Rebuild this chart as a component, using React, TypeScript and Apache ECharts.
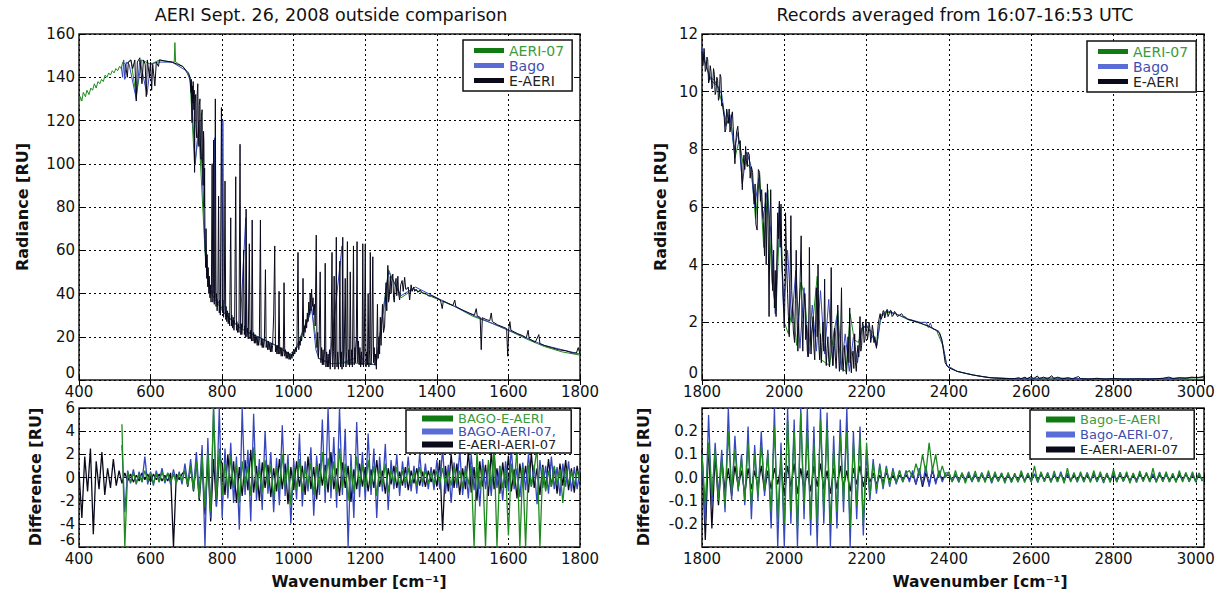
import React, { useEffect, useRef } from 'react';
import * as echarts from 'echarts';

const FONT = 'DejaVu Sans, Liberation Sans, sans-serif';

// ---------- Upper-left panel: radiance 400-1800 cm-1 ----------
const aeri07Left: [number, number][] = [
  [400,127],[404,131],[408,129],[412,133],[418,131],[422,134],[428,132],[433,135],[438,134],[443,137],[448,135],[453,138],[458,137],[463,139],[468,138],[473,141],[478,140],[483,142],[488,141],[493,143],[498,142],[503,144],[508,143],[513,145],[518,144],[522,147],[530,146],[545,148],[560,131],[575,148],[600,146],[625,148],[660,147],[666,147],[668,156],[670,147],[690,145],[710,140],[723,99],[735,115],[752,60],[760,45],[770,40],[800,32],[850,24],[900,20],[950,16],[990,11.5],[1000,12],[1040,29],[1050,33],[1070,10],[1100,7.5],[1150,8],[1200,7.5],[1230,7],[1265,51],[1300,38],[1335,42],[1400,37.5],[1450,34],[1500,29.5],[1550,26.5],[1600,23],[1650,19],[1700,15.5],[1750,13],[1800,11.5]
];

const bagoLeft: [number, number][] = [
  [518,145],[522,140],[525,148],[528,139],[532,147],[540,146],[560,130],[570,148],[590,132],[600,146],[620,147],[660,147],[700,143],[712,138],[725,100],[735,120],[745,95],[752,62],[760,44],[775,40],[779,112],[782,38],[800,33],[802,120],[805,31],[850,24],[866,75],[869,22],[900,20],[950,16],[990,12],[1010,15],[1045,30],[1050,34],[1062,14],[1070,10],[1100,8],[1135,62],[1138,8],[1170,10],[1176,20],[1182,12],[1200,8],[1230,7],[1265,50],[1300,39],[1340,43],[1400,38],[1500,30],[1600,23],[1700,16],[1800,12]
];

const eaeriLeft: [number, number][] = [
  [530,146],[535,140],[538,147],[545,148],[550,144],[556,148],[560,129],[563,147],[570,149],[576,137],[580,148],[585,146],[588,131],[591,148],[597,140],[600,147],[603,134],[606,146],[612,136],[616,147],[622,145],[625,148],[640,147.5],[660,147],[675,146],[690,145],[700,143],[706,142],[710,140],
  [713,133],[714,139],[716,119],[717,136],[718,128],[719,138],[721,125],[722,134],[723,96],[724,128],[726,132],[727,118],[729,112],[730,131],[732,137],[733,120],[735,108],[736,127],[738,130],[739,110],[741,102],[742,122],[744,125],[745,100],[747,90],[748,115],[749,110],[750,80],[751,98],
  [752,65],[754,52],[755,70],[757,47],[758,58],[760,43],[761,52],[763,40],[764,48],[766,38],[767,44],[769,36],[770,42],[772,100],[774,36],[775,44],[776,111],[778,35],[779,42],[781,130],[783,34],[784,40],[786,32],[788,38],[790,85],[792,31],[793,37],[795,30],[798,126],[801,31],[802,37],[804,29],[806,35],[808,92],[810,28],[811,34],[813,27],[815,32],[817,26],[819,31],[821,25],[824,75],[826,25],[827,30],[829,24],[831,29],[833,23],[835,28],[838,94],[840,23],[841,27],[843,22],[845,26],[847,22],[850,109],[852,21],[854,26],[855,21],[857,25],[860,60],[862,21],[863,25],[865,20],[867,79],[869,20],[871,24],[873,19],[876,63],[878,19],[880,23],[882,18],[884,74],[886,18],[888,22],[890,17],[892,21],[894,17],[896,20],[898,16],[900,20],[902,16],[904,19],[907,74],[909,16],[910,19],[912,15],[914,19],[916,15],[918,18],[921,51],[923,15],[925,18],[927,14],[929,18],[931,14],[933,17],[935,13],[937,17],[939,13],[941,16],[944,30],[947,62],[949,13],[951,16],[953,12],[955,16],[957,12],[959,41],[961,12],[963,15],[965,11],[967,15],[969,11],[971,14],[973,45],[975,11],[977,14],[979,10],[981,13],[983,10],[985,13],[987,9.5],[989,12],[991,9.5],[993,12],[995,10],[997,13],[999,11],[1001,14],[1003,12],[1005,15],[1007,13],[1009,16],[1012,59],[1014,14],[1016,18],[1018,16],[1020,20],[1022,18],[1024,22],[1026,47],[1028,20],[1030,25],[1032,22],[1034,28],[1036,24],[1038,31],[1040,27],[1042,36],[1044,30],[1046,40],[1048,32],[1050,42],[1052,34],[1054,38],[1056,30],[1058,35],[1060,25],[1063,67],[1065,15],[1067,22],[1069,10],[1071,18],[1074,50],[1076,8],[1078,15],[1080,7],[1082,14],[1084,7],[1086,13],[1088,54],[1090,6],[1092,13],[1094,6],[1096,12],[1098,6],[1100,14],[1102,5],[1104,12],[1107,59],[1109,6],[1111,13],[1113,48],[1115,5],[1117,12],[1119,66],[1121,6],[1123,13],[1125,5],[1127,12],[1129,55],[1131,6],[1133,13],[1135,5],[1137,66],[1139,6],[1141,12],[1144,47],[1146,6],[1148,13],[1150,64],[1152,7],[1154,14],[1156,6],[1158,50],[1160,7],[1162,14],[1164,6],[1167,62],[1169,7],[1171,15],[1173,8],[1175,20],[1177,64],[1179,8],[1181,18],[1183,7],[1185,15],[1187,6],[1189,13],[1191,7],[1193,63],[1195,6],[1197,12],[1200,63],[1202,6],[1204,13],[1206,7],[1208,40],[1210,6],[1212,14],[1214,59],[1216,7],[1218,13],[1221,57],[1223,8],[1225,15],[1227,7],[1229,12],[1231,5],[1234,35],[1236,10],[1238,20],[1240,12],
  [1242,29],[1244,16],[1248,35],[1251,22],[1254,25],[1258,45],[1260,32],[1263,53],[1265,36],[1267,38],[1270,48],[1272,40],[1274,46],[1277,49],[1279,38],[1281,36],[1284,45],[1286,47],[1288,39],[1291,48],[1293,40],[1296,37],[1299,44],[1303,46],[1306,41],[1310,47.5],[1313,42],[1316,42],[1320,43],[1324,37],[1328,44],[1331,41],[1335,43],[1338,41],[1342,42],[1347,40.5],[1353,41.6],[1360,40.2],[1370,40],[1377,38.8],[1385,39],[1398,38],[1410,37],[1415,33],[1418,36.5],[1430,35.5],[1445,34.5],[1450,37],[1453,34],[1470,32.5],[1490,31],[1505,30],[1510,33],[1513,29.5],[1521,29],[1524,14],[1527,28.8],[1540,27.8],[1548,27.5],[1552,31],[1555,27],[1570,25.5],[1585,24.5],[1595,23.8],[1598,11],[1601,23.5],[1604,27],[1607,23],[1625,21.5],[1640,20.5],[1650,19.5],[1655,23],[1658,19],[1675,17.5],[1685,21],[1688,16.8],[1700,16],[1720,15],[1740,14],[1760,13.5],[1780,12.5],[1790,12.5],[1795,15],[1800,12]
];

// ---------- Lower-left panel: differences, sampled every 8 cm-1 ----------
const LEFT_DIFF_STEP = 8;
const LEFT_DIFF_START_EAERI = 400;
const LEFT_DIFF_START_BAGO = 520;

const eaeriMinusAeri07Left: number[] = [
  0.5,-3.5,1.8,-1.2,2.5,-4.9,1.4,-1.0,2.2,-1.5,0.8,-0.9,1.6,-0.7,0.6,
  -0.5,0.4,-0.3,0.3,-0.4,0.2,-0.3,0.4,-0.2,0.3,-0.4,0.3,-0.2,0.3,-0.3,0.2,-0.3,0.4,-6,0.3,-0.2,0.3,
  0.6,-0.8,1.0,-1.2,1.4,-2.0,1.2,-3.2,1.5,-3.8,1.6,-2.5,1.8,
  1.2,-1.5,2.0,-1.0,1.4,-2.2,0.9,-1.6,1.5,-1.1,
  2.4,-1.3,1.0,-2.0,1.3,-0.9,1.1,-1.7,0.8,-1.2,
  1.6,-1.0,1.2,-2.3,0.9,-1.1,1.4,-0.8,1.0,-1.5,
  1.8,-1.0,0.9,-1.9,1.2,-0.7,1.1,-1.3,2.2,-1.0,
  0.8,-1.6,1.3,-0.9,1.0,-2.1,0.7,-1.0,1.2,-0.8,
  0.9,-1.2,0.7,-0.9,1.5,-0.8,0.6,-1.4,0.8,-0.6,1.0,-0.9,0.5,-0.7,0.9,-1.1,0.6,-0.5,0.8,-0.7,0.5,-0.8,0.6,-0.4,0.7,
  -0.8,1.5,-4.6,1.0,-1.2,2.0,-0.9,1.2,-1.5,0.8,
  -1.0,2.3,-1.3,0.9,-2.0,1.4,-0.8,1.1,-1.6,2.2,
  -1.0,0.8,-1.4,1.3,-0.9,1.9,-1.2,0.7,-1.8,1.2,
  -0.8,1.0,-1.3,2.1,-0.9,0.8,-1.5,1.1,-1.0,1.6,
  -0.8,0.9,-1.4,1.2,-0.7,1.5,-1.1,0.8,-1.3,1.0,
  -0.6
];

const bagoMinusAeri07Left: number[] = [
  2.8,-3.0,0.6,-0.5,0.7,-0.6,0.5,-0.4,1.8,-0.6,0.5,-0.7,0.6,-0.4,0.8,-0.5,0.4,-0.6,0.7,-0.4,0.5,-0.6,
  1.2,-0.6,1.6,-1.0,2.2,-1.5,2.8,-6,3.4,-3.5,6,-2.5,6,
  -3.5,2.5,-1.8,3.0,-2.2,1.8,-4.5,6,-1.5,2.4,
  -3.8,5.5,-2.0,1.6,-2.8,4.0,-1.4,2.2,-3.0,1.7,
  -2.4,4.5,-1.6,2.0,-4.0,1.5,-1.9,3.8,-2.5,1.4,
  -1.2,2.6,-3.3,1.9,-1.5,5.0,-2.2,6,-1.8,3.5,
  -2.6,6,-1.5,4.2,-6,2.0,-3.5,4.8,-1.7,2.2,
  -2.0,3.8,-1.5,2.5,-3.5,1.8,-1.2,2.9,-2.8,1.5,-1.0,2.0,-1.6,1.4,-0.9,1.8,-1.2,1.0,-1.4,2.1,-0.8,1.2,-1.0,0.9,-1.1,
  1.5,-1.0,2.6,-1.4,1.1,-2.2,1.3,-0.9,2.4,-1.5,
  1.0,-1.8,2.0,-1.1,0.9,-2.5,1.6,-1.0,1.2,-1.6,
  2.2,-0.9,1.0,-2.0,1.4,-1.2,2.5,-1.0,0.8,-1.7,
  1.3,-1.1,2.0,-0.8,1.1,-2.3,1.5,-0.9,1.0,-1.4,
  1.8,-1.0,0.9,-1.6,1.2,-0.8,1.4,-1.2,0.9,-1.0,
  0.7
];

const bagoMinusEaeriLeft: number[] = [
  4.6,-6,0.5,-0.4,0.4,-0.5,0.3,-0.4,0.6,-0.3,0.4,-0.5,0.3,-0.4,0.5,-0.3,0.4,-0.4,0.3,-0.5,0.4,-0.3,
  0.6,-0.7,1.0,-1.1,1.4,-1.8,1.9,-2.6,2.2,-3.0,6,-1.8,2.5,
  -1.5,1.2,-1.0,1.8,-0.9,1.1,-2.2,1.4,-0.8,1.0,
  -1.6,2.6,-1.0,0.8,-1.3,1.5,-0.7,1.0,-1.8,0.9,
  -1.1,2.0,-0.8,1.2,-2.4,0.9,-1.0,1.6,-1.2,0.8,
  -0.7,1.3,-1.5,1.0,-0.9,2.2,-1.1,1.7,-0.8,1.4,
  -1.3,2.5,-0.9,1.2,-2.0,1.0,-1.4,1.8,-0.8,1.1,
  -1.0,1.5,-0.8,1.0,-1.6,0.9,-0.6,1.2,-1.3,0.7,-0.5,0.9,-0.8,0.6,-0.5,0.8,-0.6,0.5,-0.7,0.9,-0.4,0.6,-0.5,0.5,-0.6,
  0.6,-0.5,0.8,-0.6,0.5,-0.7,0.9,-0.5,0.6,-0.8,
  0.7,-0.6,1.0,-6,2.2,-1.0,0.8,-6,1.5,-0.8,
  2.8,-6,1.0,-0.9,0.8,-5,1.2,-0.7,2.5,-6,
  0.9,-6,1.1,-0.8,0.7,2.6,-6,0.9,-1.2,0.6,
  -0.8,1.0,-0.6,0.7,-2.2,0.8,-0.6,0.5,-0.7,0.6,
  -0.4
];

// ---------- Upper-right panel: radiance 1800-3020 cm-1 ----------
const aeri07Right: [number, number][] = [
  [1800,11.3],[1810,10.9],[1820,10.5],[1830,10.4],[1840,10.1],[1850,9.5],[1860,8.9],[1870,9.0],[1880,7.7],[1890,8.3],[1900,7.5],[1910,7.5],[1920,7.3],[1930,5.6],[1940,7.1],[1950,4.6],[1960,6.6],[1970,3.4],[1980,2.4],[1990,6.0],[2000,2.0],[2010,1.6],[2020,2.6],[2030,1.2],[2040,3.4],[2050,2.9],[2060,0.9],[2070,2.1],[2080,3.6],[2090,0.7],[2100,0.6],[2110,0.5],[2120,1.6],[2130,2.4],[2140,0.4],[2150,0.3],[2160,2.3],[2170,1.4],[2180,1.3],[2190,1.8],[2200,1.85],[2215,1.65],[2225,1.2],[2235,2.2],[2250,2.35],[2270,2.3],[2300,2.1],[2340,1.92],[2370,1.72],[2385,1.2],[2395,0.5],[2420,0.3],[2460,0.17],[2500,0.08],[2550,0.05],[2650,0.06],[2750,0.04],[2850,0.04],[2950,0.05],[3020,0.08]
];

const bagoRight: [number, number][] = [
  [1800,11.5],[1808,11.0],[1818,10.5],[1828,10.3],[1838,10.2],[1848,9.9],[1858,8.8],[1868,9.2],[1878,8.0],[1888,8.6],[1898,6.8],[1908,7.9],[1918,7.5],[1928,6.0],[1938,7.0],[1948,5.6],[1958,6.5],[1968,5.0],[1978,2.3],[1988,6.1],[1998,2.5],[2008,4.5],[2018,2.0],[2028,3.8],[2038,1.1],[2048,3.2],[2058,0.8],[2068,2.6],[2078,1.0],[2088,3.1],[2098,0.9],[2108,2.8],[2118,0.5],[2128,2.2],[2138,0.35],[2148,1.6],[2158,0.3],[2168,1.5],[2178,0.6],[2188,1.8],[2200,1.9],[2212,1.6],[2224,1.15],[2235,2.25],[2250,2.4],[2270,2.3],[2300,2.12],[2330,2.0],[2345,2.0],[2350,1.82],[2355,1.98],[2360,1.78],[2375,1.7],[2385,1.25],[2395,0.5],[2420,0.3],[2460,0.17],[2500,0.08],[2550,0.05],[2650,0.07],[2750,0.04],[2850,0.04],[2950,0.06],[3020,0.1]
];

const eaeriRight: [number, number][] = [
  [1800,11.4],[1802,10.9],[1803,11.0],[1805,11.5],[1806,11.3],[1808,10.7],[1810,10.8],[1812,11.2],[1814,11.1],[1816,10.3],[1818,10.4],[1820,10.9],[1822,10.7],[1824,10.1],[1826,10.2],[1828,10.8],[1830,10.6],[1832,9.9],[1834,10.0],[1836,10.5],[1838,10.4],[1840,9.7],[1842,9.8],[1844,10.6],[1846,10.5],[1848,9.5],[1850,9.6],[1852,9.3],[1854,9.1],[1856,8.6],[1858,8.7],[1860,9.4],[1862,9.2],[1864,8.9],[1866,9.4],[1868,8.6],[1870,8.8],[1872,9.2],[1874,9.3],[1877,8.4],[1880,7.5],[1882,8.2],[1884,8.6],[1887,8.8],[1890,8.2],[1893,8.3],[1896,7.2],[1898,6.6],[1900,7.5],[1902,7.8],[1904,7.3],[1906,8.1],[1908,7.6],[1910,7.4],[1912,7.9],[1915,7.8],[1917,7.0],[1920,7.4],[1923,7.2],[1925,6.6],[1927,6.1],[1929,6.8],[1931,5.4],[1934,5.2],[1937,7.3],[1940,7.2],[1942,6.2],[1945,6.6],[1947,5.9],[1949,5.5],[1952,4.3],[1954,6.5],[1956,4.0],[1959,6.8],[1961,5.0],[1963,2.2],[1965,5.4],[1967,6.6],[1970,4.1],[1972,3.1],[1974,4.5],[1976,2.5],[1978,3.8],[1980,2.2],[1982,4.2],[1984,5.8],[1986,4.9],[1988,6.2],[1990,4.6],[1992,6.1],[1994,4.2],[1996,3.5],[1998,2.6],[2000,1.8],[2002,3.3],[2003,5.8],[2006,3.9],[2008,3.0],[2010,2.2],[2012,1.5],[2014,3.4],[2016,5.7],[2018,3.1],[2020,2.5],[2022,1.7],[2025,1.3],[2027,2.8],[2029,4.5],[2031,2.2],[2033,1.0],[2035,2.0],[2038,3.2],[2041,5.0],[2043,2.1],[2045,1.0],[2047,2.4],[2050,3.0],[2052,1.4],[2054,1.9],[2056,1.0],[2058,0.8],[2060,2.6],[2061,4.6],[2063,1.8],[2065,0.9],[2067,1.6],[2070,2.2],[2072,1.1],[2074,0.7],[2076,1.8],[2078,3.2],[2080,1.5],[2082,4.0],[2084,1.2],[2086,0.7],[2088,1.6],[2090,0.6],[2092,1.3],[2094,2.0],[2096,1.0],[2098,3.5],[2100,1.2],[2102,0.5],[2104,1.1],[2106,1.5],[2108,0.7],[2110,0.45],[2112,1.4],[2114,3.9],[2116,1.0],[2118,0.5],[2120,1.2],[2122,1.8],[2124,0.8],[2126,0.4],[2128,1.1],[2130,2.6],[2132,0.9],[2134,0.3],[2136,0.9],[2139,3.2],[2141,0.8],[2143,0.3],[2145,0.8],[2147,1.2],[2149,0.5],[2151,0.2],[2153,0.7],[2155,1.5],[2157,0.6],[2159,2.5],[2161,0.7],[2163,0.25],[2165,0.8],[2167,1.0],[2169,0.4],[2171,1.6],[2173,0.6],[2175,0.3],[2177,0.9],[2179,1.2],[2181,0.8],[2184,2.2],[2186,1.0],[2188,1.2],[2190,2.0],[2192,1.9],[2194,1.3],[2196,1.4],[2198,2.1],[2200,1.9],[2202,1.4],[2204,1.6],[2206,2.0],[2208,1.8],[2210,1.3],[2212,1.5],[2214,1.9],[2216,1.7],[2218,1.3],[2220,1.5],[2222,1.3],[2224,1.1],[2226,1.5],[2228,1.9],[2230,2.1],[2233,2.3],[2235,2.1],[2238,2.2],[2240,2.4],[2242,2.4],[2244,2.15],[2246,2.25],[2248,2.4],[2250,2.45],[2252,2.2],[2255,2.3],[2258,2.42],[2260,2.4],[2262,2.2],[2265,2.25],[2268,2.38],[2270,2.35],[2275,2.2],[2280,2.25],[2285,2.3],[2290,2.2],[2295,2.18],[2300,2.1],[2310,2.07],[2320,2.02],[2330,1.98],[2340,1.92],[2350,1.88],[2360,1.8],[2370,1.72],[2378,1.62],[2383,1.4],[2387,1.0],[2391,0.6],[2396,0.48],[2400,0.42],[2410,0.36],[2420,0.3],[2440,0.23],[2460,0.17],[2480,0.12],[2500,0.08],[2520,0.06],[2540,0.05],[2560,0.05],[2570,0.08],[2575,0.04],[2585,0.1],[2590,0.04],[2600,0.12],[2605,0.04],[2615,0.14],[2620,0.05],[2630,0.1],[2640,0.04],[2650,0.15],[2655,0.05],[2665,0.1],[2675,0.04],[2690,0.08],[2700,0.04],[2715,0.12],[2720,0.05],[2740,0.03],[2760,0.06],[2780,0.03],[2800,0.05],[2830,0.03],[2860,0.04],[2890,0.03],[2920,0.06],[2935,0.1],[2945,0.05],[2960,0.08],[2975,0.06],[2990,0.1],[3005,0.08],[3020,0.12]
];

// ---------- Lower-right panel: differences, sampled every 8 cm-1 from 1800 ----------
const RIGHT_DIFF_STEP = 8;
const RIGHT_DIFF_START = 1800;

const eaeriMinusAeri07Right: number[] = [
  0.12,-0.27,0.15,-0.22,0.1,-0.12,0.08,
  -0.06,0.04,-0.08,0.05,-0.04,0.03,-0.07,0.04,-0.05,0.03,-0.04,0.05,-0.06,0.03,-0.05,0.04,-0.03,0.05,
  -0.08,0.05,-0.04,0.06,-0.07,0.04,-0.05,0.03,-0.06,0.05,-0.04,0.06,-0.05,0.03,-0.07,0.04,-0.05,0.05,-0.04,0.03,-0.06,0.04,-0.03,0.05,-0.04,
  0.03,-0.02,0.02,-0.03,0.01,-0.02,0.02,-0.01,0.01,-0.02,0.01,-0.01,0.01,
  -0.01,0.02,-0.03,0.03,-0.04,0.02,-0.03,0.03,-0.02,0.02,-0.01,0.01,
  0.01,-0.012,0.008,-0.01,0.012,-0.008,0.01,-0.014,0.009,-0.01,
  0.011,-0.009,0.013,-0.01,0.008,-0.012,0.01,-0.008,0.012,-0.01,
  0.009,-0.011,0.01,-0.013,0.008,-0.009,0.012,-0.01,0.01,-0.008,
  0.011,-0.012,0.009,-0.01,0.013,-0.009,0.01,-0.011,0.008,-0.01,
  0.012,-0.009,0.01,-0.013,0.011,-0.008,0.009,-0.012,0.01,-0.01,
  0.012,-0.009,0.008,-0.011,0.01,-0.012,0.009,-0.01,0.011,-0.008,
  0.013,-0.01,0.009,-0.012,0.01,-0.009,0.011,-0.01,0.008,-0.012,
  0.01,-0.009,0.012,-0.01,0.009,-0.011,0.01,-0.008
];

const bagoMinusAeri07Right: number[] = [
  0.1,-0.2,0.27,-0.12,0.15,-0.08,0.12,-0.15,0.3,-0.1,0.18,-0.06,0.1,-0.12,0.22,-0.18,0.14,-0.1,0.2,-0.08,0.12,-0.22,0.3,-0.3,0.15,
  -0.3,0.3,-0.2,0.25,-0.3,0.3,-0.18,0.3,-0.25,0.22,-0.3,0.3,-0.2,0.28,-0.3,0.18,-0.22,0.25,-0.15,0.3,-0.3,0.2,-0.18,0.22,-0.25,
  0.12,-0.1,0.08,-0.07,0.06,-0.05,0.05,-0.04,0.04,-0.03,0.03,-0.02,0.03,
  -0.02,0.03,-0.03,0.04,-0.03,0.05,-0.04,0.04,-0.03,0.03,-0.02,0.02,
  0.02,-0.018,0.015,-0.022,0.018,-0.015,0.025,-0.02,0.016,-0.018,
  0.022,-0.015,0.02,-0.025,0.018,-0.016,0.02,-0.02,0.015,-0.022,
  0.018,-0.02,0.024,-0.015,0.019,-0.018,0.016,-0.022,0.02,-0.017,
  0.022,-0.02,0.016,-0.019,0.025,-0.018,0.02,-0.016,0.018,-0.021,
  0.017,-0.02,0.022,-0.015,0.019,-0.02,0.016,-0.024,0.02,-0.017,
  0.018,-0.02,0.023,-0.016,0.019,-0.018,0.017,-0.022,0.02,-0.015,
  0.021,-0.019,0.016,-0.02,0.024,-0.017,0.018,-0.02,0.016,-0.018,
  0.022,-0.015,0.02,-0.019,0.017,-0.02,0.018,-0.016
];

const bagoMinusEaeriRight: number[] = [
  0.1,-0.12,0.15,-0.08,0.12,-0.1,0.08,-0.12,0.2,-0.06,0.12,-0.05,0.08,-0.1,0.15,-0.12,0.1,-0.08,0.14,-0.05,0.1,-0.15,0.22,-0.18,0.1,
  -0.2,0.25,-0.15,0.2,-0.22,0.28,-0.12,0.2,-0.18,0.15,-0.2,0.25,-0.15,0.22,-0.2,0.12,-0.15,0.18,-0.1,0.2,-0.22,0.15,-0.12,0.18,-0.2,
  0.15,-0.08,0.06,-0.05,0.05,-0.04,0.04,-0.03,0.03,-0.02,0.03,-0.02,0.02,
  0.03,0.0,0.06,0.01,0.1,0.02,0.15,0.03,0.1,0.0,0.05,0.0,
  0.025,-0.02,0.03,-0.018,0.022,-0.025,0.02,-0.015,0.028,-0.02,
  0.018,-0.022,0.03,-0.02,0.025,-0.018,0.02,-0.025,0.022,-0.02,
  0.015,-0.02,0.03,-0.022,0.018,-0.02,0.05,-0.02,0.025,-0.018,
  0.02,-0.022,0.028,-0.02,0.018,-0.025,0.04,-0.02,0.022,-0.018,
  0.025,-0.02,0.02,-0.022,0.03,-0.018,0.025,-0.02,0.018,-0.022,
  0.035,-0.02,0.022,-0.018,0.025,-0.025,0.02,-0.02,0.028,-0.018,
  0.022,-0.02,0.04,-0.022,0.02,-0.018,0.025,-0.02,0.018,-0.022,
  0.03,-0.02,0.022,-0.018,0.025,-0.02,0.02,-0.015
];

// tick settings
const LEFT_X = { min: 400, max: 1800, interval: 200 };
const RIGHT_X = { min: 1800, max: 3020, interval: 200 };
const RAD_LEFT_Y = { min: 0, max: 160, interval: 20 };
const RAD_RIGHT_Y = { min: 0, max: 12, interval: 2 };
const DIFF_LEFT_Y = { min: -6, max: 6, interval: 2 };
const DIFF_RIGHT_Y = { min: -0.3, max: 0.3, interval: 0.1 };

const GREEN = '#1f8a1f';
const BLUE = '#3747bd';
const BLACK = '#0a0a1c';

const sampled = (start: number, step: number, vals: number[]) =>
  vals.map((v, i) => [start + i * step, v]);

export default function App() {
  const ref = useRef<HTMLDivElement>(null);

  useEffect(() => {
    const chart = echarts.init(ref.current as HTMLDivElement, undefined, { renderer: 'svg' });

    const grids = [
      { left: 79, top: 34, width: 501, height: 346 },
      { left: 79, top: 408, width: 501, height: 139 },
      { left: 702, top: 34, width: 502, height: 346 },
      { left: 702, top: 408, width: 502, height: 139 },
    ].map((g) => ({ ...g, show: true, borderColor: '#1a1a1a', borderWidth: 1.5, containLabel: false }));

    const split = { show: true, lineStyle: { color: '#000', type: [2, 3], width: 1 } };
    const tick = { show: true, inside: true, length: 5, lineStyle: { color: '#000', width: 1 } };
    const lbl = { fontSize: 15, color: '#111', fontFamily: FONT, margin: 4 };

    const xAxis = (gi: number, r: any) => ({
      type: 'value', gridIndex: gi, ...r,
      axisLine: { show: false }, axisTick: tick, splitLine: split,
      axisLabel: { ...lbl, margin: 4, formatter: (v: number) => (v % 200 === 0 ? String(v) : '') },
    });
    const yAxis = (gi: number, r: any, fmt?: (v: number) => string) => ({
      type: 'value', gridIndex: gi, ...r,
      axisLine: { show: false }, axisTick: tick, splitLine: split,
      axisLabel: {
        ...lbl,
        formatter: (v: number) => {
          const s = fmt ? fmt(v) : String(v);
          return Math.abs(v - r.min) < 1e-9 && s !== '' ? `{lift|${s}}` : s;
        },
        rich: { lift: { fontSize: 15, color: '#111', fontFamily: FONT, padding: [0, 0, 14, 0] } },
      },
    });
    // mirror ticks on the top and right edges (no labels)
    const xTop = (gi: number, r: any) => ({
      type: 'value', gridIndex: gi, position: 'top', ...r,
      axisLine: { show: false }, axisTick: tick, splitLine: { show: false }, axisLabel: { show: false },
    });
    const yRight = (gi: number, r: any) => ({
      type: 'value', gridIndex: gi, position: 'right', ...r,
      axisLine: { show: false }, axisTick: tick, splitLine: { show: false }, axisLabel: { show: false },
    });

    const line = (name: string, gi: number, data: any[], color: string, width = 1) => ({
      type: 'line', name, xAxisIndex: gi, yAxisIndex: gi, data,
      showSymbol: false, symbol: 'none', color, silent: true, clip: true,
      lineStyle: { color, width }, emphasis: { disabled: true },
    });

    const legendBase = (left: number, top: number, padding: number[], lineHeight: number, fontSize: number, itemHeight: number, itemWidth: number) => ({
      orient: 'vertical', left, top, padding, itemGap: 0, itemWidth, itemHeight, icon: 'rect',
      selectedMode: false, borderColor: '#111', borderWidth: 1.5, backgroundColor: '#fff', borderRadius: 0,
      textStyle: { fontSize, lineHeight, fontFamily: FONT, color: '#111' },
    });

    const item = (name: string, text: string, swatch: string) => ({ name, textStyle: { color: text }, itemStyle: { color: swatch } });

    const txt = (x: number, y: number, text: string, size: number, bold: boolean, rotation = 0) => ({
      type: 'text', x, y, rotation, silent: true,
      style: { text, fontSize: size, fontWeight: bold ? 'bold' : 'normal', fontFamily: FONT, fill: '#111', align: 'center', verticalAlign: 'middle' },
    });

    const DIFF_W = 1.3;

    const option: any = {
      animation: false,
      backgroundColor: '#fff',
      grid: grids,
      xAxis: [
        xAxis(0, LEFT_X), xAxis(1, LEFT_X), xAxis(2, RIGHT_X), xAxis(3, RIGHT_X),
        xTop(0, LEFT_X), xTop(1, LEFT_X), xTop(2, RIGHT_X), xTop(3, RIGHT_X),
      ],
      yAxis: [
        yAxis(0, RAD_LEFT_Y),
        yAxis(1, DIFF_LEFT_Y),
        yAxis(2, RAD_RIGHT_Y),
        yAxis(3, DIFF_RIGHT_Y, (v: number) => (Math.abs(v) > 0.25 ? '' : Math.abs(v) < 1e-9 ? '0.0' : v.toFixed(1))),
        yRight(0, RAD_LEFT_Y), yRight(1, DIFF_LEFT_Y), yRight(2, RAD_RIGHT_Y), yRight(3, DIFF_RIGHT_Y),
      ],
      legend: [
        { ...legendBase(463, 40, [3, 8, 3, 11], 15, 14, 5, 30),
          data: [item('AERI-07', '#3d9a3d', '#127a12'), item('Bago', '#3f4fb0', '#5a6cd6'), item('E-AERI', '#222', '#0a0a1a')] },
        { ...legendBase(406, 410, [2, 15, 2, 16], 12.5, 13, 6, 31),
          data: [item('BAGO-E-AERI', '#3d9a3d', '#127a12'), item('BAGO-AERI-07,', '#3f4fb0', '#5a6cd6'), item('E-AERI-AERI-07', '#222', '#0a0a1a')] },
        { ...legendBase(1087, 41, [3, 8, 3, 11], 15, 14, 5, 30),
          data: [item('AERI-07', '#3d9a3d', '#127a12'), item('Bago', '#3f4fb0', '#5a6cd6'), item('E-AERI', '#222', '#0a0a1a')] },
        { ...legendBase(1030, 410, [2, 16, 2, 16], 15, 13, 6, 29),
          data: [item('Bago-E-AERI', '#3d9a3d', '#127a12'), item('Bago-AERI-07,', '#3f4fb0', '#5a6cd6'), item('E-AERI-AERI-07', '#222', '#0a0a1a')] },
      ],
      series: [
        line('AERI-07', 0, aeri07Left, GREEN),
        line('Bago', 0, bagoLeft, BLUE),
        line('E-AERI', 0, eaeriLeft, BLACK),
        line('E-AERI-AERI-07', 1, sampled(LEFT_DIFF_START_EAERI, LEFT_DIFF_STEP, eaeriMinusAeri07Left), BLACK, DIFF_W),
        line('BAGO-AERI-07,', 1, sampled(LEFT_DIFF_START_BAGO, LEFT_DIFF_STEP, bagoMinusAeri07Left), BLUE, DIFF_W),
        line('BAGO-E-AERI', 1, sampled(LEFT_DIFF_START_BAGO, LEFT_DIFF_STEP, bagoMinusEaeriLeft), GREEN, DIFF_W),
        line('AERI-07', 2, aeri07Right, GREEN),
        line('Bago', 2, bagoRight, BLUE),
        line('E-AERI', 2, eaeriRight, BLACK),
        line('E-AERI-AERI-07', 3, sampled(RIGHT_DIFF_START, RIGHT_DIFF_STEP, eaeriMinusAeri07Right), BLACK, DIFF_W),
        line('Bago-AERI-07,', 3, sampled(RIGHT_DIFF_START, RIGHT_DIFF_STEP, bagoMinusAeri07Right), BLUE, DIFF_W),
        line('Bago-E-AERI', 3, sampled(RIGHT_DIFF_START, RIGHT_DIFF_STEP, bagoMinusEaeriRight), GREEN, DIFF_W),
      ],
      graphic: [
        txt(331, 15, 'AERI Sept. 26, 2008 outside comparison', 17.5, false),
        txt(955, 15, 'Records averaged from 16:07-16:53 UTC', 17.5, false),
        txt(22, 207, 'Radiance [RU]', 16, true, Math.PI / 2),
        txt(35, 477, 'Difference [RU]', 16, true, Math.PI / 2),
        txt(660, 207, 'Radiance [RU]', 16, true, Math.PI / 2),
        txt(643, 477, 'Difference [RU]', 16, true, Math.PI / 2),
        txt(359, 582, 'Wavenumber [cm\u207B\u00B9]', 15.5, true),
        txt(980, 582, 'Wavenumber [cm\u207B\u00B9]', 15.5, true),
      ],
    };

    chart.setOption(option);
    return () => chart.dispose();
  }, []);

  return (
    <div
      ref={ref}
      style={{ position: 'fixed', left: 0, top: 0, width: 1220, height: 594, background: '#fff' }}
    />
  );
}
